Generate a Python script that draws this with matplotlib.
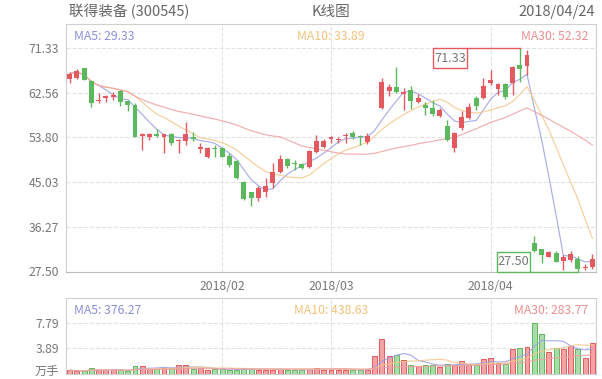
import matplotlib
matplotlib.use('Agg')
import matplotlib.pyplot as plt
from matplotlib.patches import Rectangle
from matplotlib.transforms import ScaledTranslation
import numpy as np
import pandas as pd

plt.rcParams['font.family'] = ['Noto Sans CJK SC', 'DejaVu Sans']

# header / legend texts
stock_name = '联得装备 (300545)'
chart_name = 'K线图'
date_text = '2018/04/24'
price_ma_text = ['MA5: 29.33', 'MA10: 33.89', 'MA30: 52.32']
vol_ma_text = ['MA5: 376.27', 'MA10: 438.63', 'MA30: 283.77']
vol_unit = '万手'

# trading days 2018/01/03 - 2018/04/24 (spring festival + qingming closed)
holidays = ['2018-02-15', '2018-02-16', '2018-02-19', '2018-02-20',
            '2018-02-21', '2018-04-05', '2018-04-06']
dates = pd.bdate_range('2018-01-03', '2018-04-24', freq='C', holidays=holidays)

# daily prices
opens = [65.2, 65.4, 67.4, 64.8, 60.9, 61.6, 61.8, 62.9, 61.0, 60.2,
         54.1, 53.8, 54.4, 53.85, 54.45, 53.1, 53.0, 53.95, 51.5, 49.9,
         51.8, 51.7, 50.2, 49.2, 45.1, 43.0, 41.85, 43.0, 44.8, 47.1,
         49.5, 48.85, 48.6, 47.9, 51.0, 51.9, 53.4, 53.35, 54.15, 54.75,
         54.15, 52.85, 59.5, 59.5, 62.9, 63.6, 62.3, 63.1, 60.7, 60.2,
         59.5, 58.0, 56.05, 51.7, 55.6, 57.6, 61.5, 61.5, 64.55, 63.25,
         64.3, 64.4, 68.0, 67.8, 33.1, 31.85, 30.4, 31.2, 29.6, 29.7,
         29.9, 28.25, 28.3]
highs = [66.7, 67.2, 67.5, 65.1, 62.5, 62.1, 62.8, 63.1, 61.1, 60.5,
         54.7, 54.7, 55.4, 54.5, 54.6, 53.5, 56.9, 54.9, 52.65, 52.0,
         52.3, 52.0, 50.7, 49.4, 45.3, 43.1, 44.3, 45.9, 48.7, 50.35,
         49.7, 49.4, 48.7, 51.3, 54.3, 53.4, 54.1, 53.95, 54.6, 55.1,
         54.3, 54.6, 59.5, 65.5, 64.2, 67.7, 63.45, 63.8, 62.3, 60.8,
         61.15, 59.5, 57.2, 54.9, 58.9, 60.6, 61.9, 65.4, 67.05, 64.4,
         64.4, 67.8, 71.33, 70.97, 34.45, 32.0, 31.5, 31.56, 30.7, 31.56,
         30.5, 28.9, 30.9]
lows = [64.4, 65.2, 65.0, 59.7, 60.5, 60.8, 61.2, 60.0, 58.9, 53.8,
        51.3, 53.3, 53.9, 50.7, 52.3, 50.7, 52.3, 53.0, 50.8, 49.7,
        49.9, 49.9, 47.9, 45.6, 41.5, 40.3, 41.3, 42.2, 43.8, 46.9,
        47.75, 47.4, 47.6, 47.75, 50.7, 51.7, 52.7, 52.65, 52.65, 53.4,
        52.3, 52.5, 59.5, 59.4, 62.0, 62.5, 59.2, 59.4, 60.5, 58.2,
        58.0, 57.75, 53.0, 51.0, 55.3, 57.4, 59.2, 61.3, 64.1, 62.1,
        61.3, 62.1, 64.75, 66.06, 31.4, 29.2, 30.3, 29.3, 27.8, 29.4,
        27.50, 27.8, 27.9]
closes = [66.3, 66.9, 65.1, 60.6, 61.1, 61.9, 62.1, 60.8, 60.2, 53.9,
          54.5, 54.5, 54.0, 54.4, 52.65, 53.3, 54.5, 53.4, 52.0, 51.7,
          51.5, 50.0, 48.3, 45.8, 41.7, 41.85, 43.9, 44.3, 47.0, 49.5,
          48.2, 48.6, 47.7, 51.2, 53.0, 53.1, 53.8, 53.45, 54.3, 53.8,
          53.95, 54.1, 59.5, 64.6, 63.6, 62.8, 62.7, 61.0, 61.6, 59.5,
          58.4, 59.2, 53.3, 54.7, 57.75, 59.8, 60.0, 63.9, 65.1, 64.3,
          61.7, 67.7, 67.2, 70.0, 31.55, 30.7, 31.25, 29.4, 30.4, 30.85,
          27.9, 28.35, 29.9]
# volume, 万手
volumes = [0.56, 0.46, 0.40, 0.97, 0.67, 0.56, 0.56, 0.56, 0.46, 1.28,
           1.28, 0.82, 0.72, 0.97, 0.87, 1.43, 1.33, 0.72, 0.97, 0.56,
           0.72, 0.72, 0.67, 0.67, 0.72, 0.82, 0.67, 0.67, 0.67, 0.82,
           0.56, 0.56, 0.56, 0.77, 0.97, 0.67, 0.67, 0.67, 0.67, 0.56,
           0.56, 0.67, 2.70, 5.28, 2.70, 2.85, 2.08, 1.43, 1.28, 1.43,
           1.43, 1.12, 1.53, 1.43, 1.93, 1.43, 1.43, 2.23, 2.38, 1.68,
           1.53, 3.75, 3.95, 4.10, 7.79, 6.05, 3.35, 4.00, 3.75, 4.20,
           3.87, 2.50, 4.70]

ma_windows = [5, 10, 30]
ma_colors = ['#9b9fe6', '#f6c68a', '#f0a0a0']
ma_text_colors = ['#8a8fd8', '#f2c27a', '#ec8f8f']
RED = '#e25a5f'
GREEN = '#5cb85c'
GRID = '#e2e2e2'
SPINE = '#d0d0d0'
TXT = '#777777'

o = np.array(opens); h = np.array(highs); l = np.array(lows); c = np.array(closes)
v = np.array(volumes)
n = len(c)
x = np.arange(n)
up = c >= o
cols = np.where(up, RED, GREEN)

W, H = 602, 379
fig = plt.figure(figsize=(W / 100, H / 100), dpi=100)


def box(left, top, right, bottom):
    return [left / W, 1 - bottom / H, (right - left) / W, (bottom - top) / H]


ax = fig.add_axes(box(66, 24, 596, 271.5))
axv = fig.add_axes(box(66, 298, 596, 374))

# month ticks
month_idx = [i for i in range(1, n) if dates[i].month != dates[i - 1].month]
month_lbl = [dates[i].strftime('%Y/%m') for i in month_idx]

# ---- price panel
ax.vlines(x, l, h, color=cols, lw=1, zorder=3)
body_h = np.maximum(np.abs(c - o), 0.15)
ax.bar(x, body_h, 0.68, bottom=np.minimum(o, c), color=cols, lw=0, zorder=3)

for w, col in zip(ma_windows, ma_colors):
    ma = pd.Series(c).rolling(w, min_periods=1).mean()
    ax.plot(x, ma, color=col, lw=0.85, alpha=0.85, zorder=2)

lo, hi = l.min(), h.max()
yt = np.linspace(lo, hi, 6)
ax.set_yticks(yt)
ax.set_yticklabels([f'{t:.2f}' for t in yt])
ax.set_ylim(lo, hi + (hi - lo) * 24 / 223.4)
ax.set_xlim(-0.5, n - 0.5)
ax.set_xticks(month_idx)
ax.set_xticklabels(month_lbl)
ax.grid(True, ls='--', color=GRID, lw=0.8, zorder=0)
ax.tick_params(length=0, labelsize=8.8, colors=TXT, pad=5)
ax.tick_params(axis='x', pad=6)
for s in ax.spines.values():
    s.set_color(SPINE)
ax.spines['bottom'].set_color('#bbbbbb')

# max / min markers
pxx = 530 / n
pxy = 223.4 / (hi - lo)
imax, imin = int(np.argmax(h)), int(np.argmin(l))
x1 = imax - 52.7 / pxx
ax.plot([x1, imax], [hi, hi], color=RED, lw=1, zorder=4)
bw, bh = 34 / pxx, 20 / pxy
ax.add_patch(Rectangle((x1 - bw, hi - bh), bw, bh, fill=False, ec=RED, lw=1, zorder=4))
ax.text(x1 - bw / 2, hi - bh / 2, f'{hi:.2f}', ha='center', va='center',
        fontsize=9.2, color=TXT, zorder=5)
x2 = imin - 48 / pxx
ax.plot([x2, imin], [lo, lo], color=GREEN, lw=1, zorder=4, clip_on=False)
bw2, bh2 = 33 / pxx, 19 / pxy
ax.add_patch(Rectangle((x2 - bw2, lo), bw2, bh2, fill=False, ec=GREEN, lw=1,
                       zorder=4, clip_on=False))
ax.text(x2 - bw2 / 2, lo + bh2 / 2, f'{lo:.2f}', ha='center', va='center',
        fontsize=9.2, color=TXT, zorder=5)

# ---- volume panel
vcols = np.where(up, '#f3a3a3', '#a9dca9')
vedge = np.where(up, RED, GREEN)
axv.bar(x, v, 0.68, color=vcols, edgecolor=vedge, lw=0.7, zorder=3)
for w, col in zip(ma_windows, ma_colors):
    ma = pd.Series(v).rolling(w, min_periods=1).mean()
    axv.plot(x, ma, color=col, lw=0.85, alpha=0.85, zorder=4)

vmax = v.max()
axv.set_xlim(-0.5, n - 0.5)
axv.set_ylim(0, vmax * (373.7 - 298) / (373.7 - 322.7))
vt = [0, vmax / 2, vmax]
axv.set_yticks(vt)
axv.set_yticklabels([vol_unit, f'{np.floor(vmax * 50) / 100:.2f}', f'{vmax:.2f}'])
axv.set_xticks(month_idx)
axv.set_xticklabels([])
axv.grid(True, ls='--', color=GRID, lw=0.8, zorder=0)
axv.tick_params(length=0, labelsize=8.8, colors=TXT, pad=5)
for s in axv.spines.values():
    s.set_color(SPINE)
# lift the unit label a little so it is not cut at the bottom edge
unit_lbl = axv.get_yticklabels()[0]
unit_lbl.set_transform(unit_lbl.get_transform() + ScaledTranslation(0, 2.5 / 72, fig.dpi_scale_trans))

# ---- texts
fig.text(69 / W, 1 - 12 / H, stock_name, ha='left', va='center', fontsize=10.5, color='#666666')
fig.text(331 / W, 1 - 12 / H, chart_name, ha='center', va='center', fontsize=10.5, color='#666666')
fig.text(595 / W, 1 - 12 / H, date_text, ha='right', va='center', fontsize=10.5, color='#666666')

for txts, yy in [(price_ma_text, 37), (vol_ma_text, 311)]:
    fig.text(74 / W, 1 - yy / H, txts[0], ha='left', va='center', fontsize=8.8, color=ma_text_colors[0])
    fig.text(331 / W, 1 - yy / H, txts[1], ha='center', va='center', fontsize=8.8, color=ma_text_colors[1])
    fig.text(588 / W, 1 - yy / H, txts[2], ha='right', va='center', fontsize=8.8, color=ma_text_colors[2])

fig.savefig('out.png', dpi=100)
